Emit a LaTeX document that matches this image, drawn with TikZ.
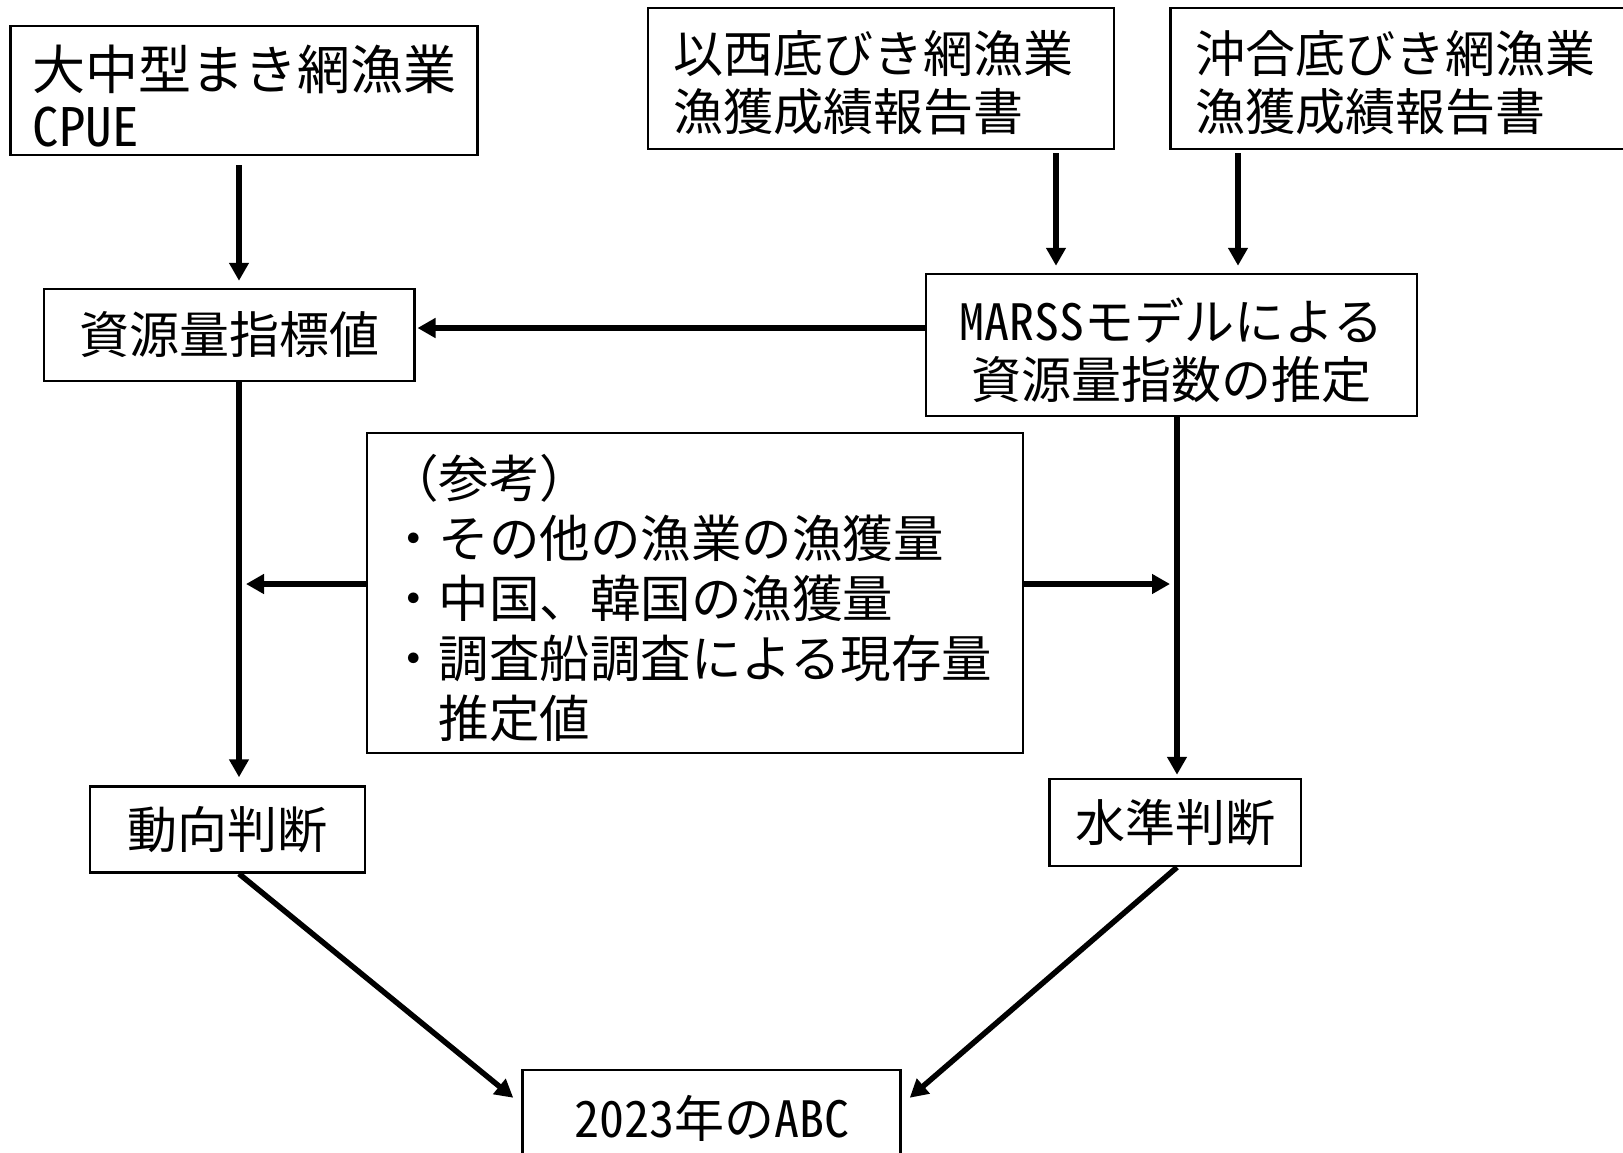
\documentclass[tikz,border=0pt]{standalone}
\usepackage{fontspec}
\usepackage{graphicx}
\setmainfont{Noto Sans CJK JP}
\newfontfamily\hw[RawFeature=+hwid]{Noto Sans CJK JP}
\usetikzlibrary{arrows.meta,calc}
\newcommand\fsz{\fontsize{50}{58}\selectfont}
% text block lowered by #1, width #2, alignment #3, lines #4
\newcommand\tblock[4]{\raisebox{-#1}[\height][\depth]{\parbox{#2}{#3#4}}}
\tikzset{
  box/.style={draw, line width=2.5pt, fill=white, inner sep=0pt, font=\fsz},
  conn/.style={line width=5.5pt, -{Triangle[length=18pt,width=19pt]}},
}
\begin{document}
\begin{tikzpicture}[x=1pt,y=-1pt]
\clip (0,0) rectangle (1623,1152);
\fill[white] (0,0) rectangle (1623,1152);
\coordinate (lx) at (239,0);
\coordinate (rx) at (1177,0);
\coordinate (hy) at (0,328);
\coordinate (my) at (0,584);
\node[box, minimum width=467pt, minimum height=129pt, font=\fontsize{53}{57}\selectfont] (b1) at (244,90.5) {\tblock{6pt}{423pt}{\raggedright}{大中型まき網漁業\\{\hw CPUE}}};
\node[box, minimum width=466pt, minimum height=141pt] (b2) at (881,78.5) {\tblock{4pt}{416pt}{\raggedright}{以西底びき網漁業\\漁獲成績報告書}};
\node[box, minimum width=466pt, minimum height=141pt] (b3) at (1403.5,78.5) {\tblock{4pt}{416pt}{\raggedright}{沖合底びき網漁業\\漁獲成績報告書}};
\node[box, minimum width=370.5pt, minimum height=92pt] (b4) at (229,335) {資源量指標値};
\node[box, minimum width=491pt, minimum height=142pt] (b5) at (1171.5,345) {\tblock{5pt}{480pt}{\centering}{{\hw MARSS}モデルによる\\資源量指数の推定}};
\node[box, minimum width=656pt, minimum height=320pt, font=\fontsize{50.5}{60}\selectfont] (b6) at (695,593) {\tblock{5pt}{614pt}{\raggedright}{（参考）\\・その他の漁業の漁獲量\\・中国、韓国の漁獲量\\・調査船調査による現存量\\　推定値}};
\node[box, minimum width=275pt, minimum height=86pt] (b7) at (227.5,829.5) {動向判断};
\node[box, minimum width=251.5pt, minimum height=87pt] (b8) at (1175,822.5) {水準判断};
\node[box, minimum width=378pt, minimum height=96pt] (b9) at (711.5,1118) {{\hw 2023}年の{\hw ABC}};
\coordinate (lt) at (246,584);
\coordinate (rt) at (1170,584);
\draw[conn, shorten <=9pt, shorten >=7pt] (b1.south -| lx) -- (b4.north -| lx);
\draw[conn, shorten <=3pt, shorten >=7pt] (b2.south -| 1056,0) -- (b5.north -| 1056,0);
\draw[conn, shorten <=3pt, shorten >=7pt] (b3.south -| 1238,0) -- (b5.north -| 1238,0);
\draw[conn, shorten >=2pt] (b5.west |- hy) -- (b4.east |- hy);
\draw[conn, shorten >=8pt] (b4.south -| lx) -- (b7.north -| lx);
\draw[conn, shorten >=3pt] (b5.south -| rx) -- (b8.north -| rx);
\draw[conn] (b6.west |- my) -- (lt);
\draw[conn] (b6.east |- my) -- (rt);
\draw[conn] (b7.south -| lx) -- ($(b9.north west)+(-8,29)$);
\draw[conn] (b8.south -| rx) -- ($(b9.north east)+(8,29)$);
\end{tikzpicture}
\end{document}
